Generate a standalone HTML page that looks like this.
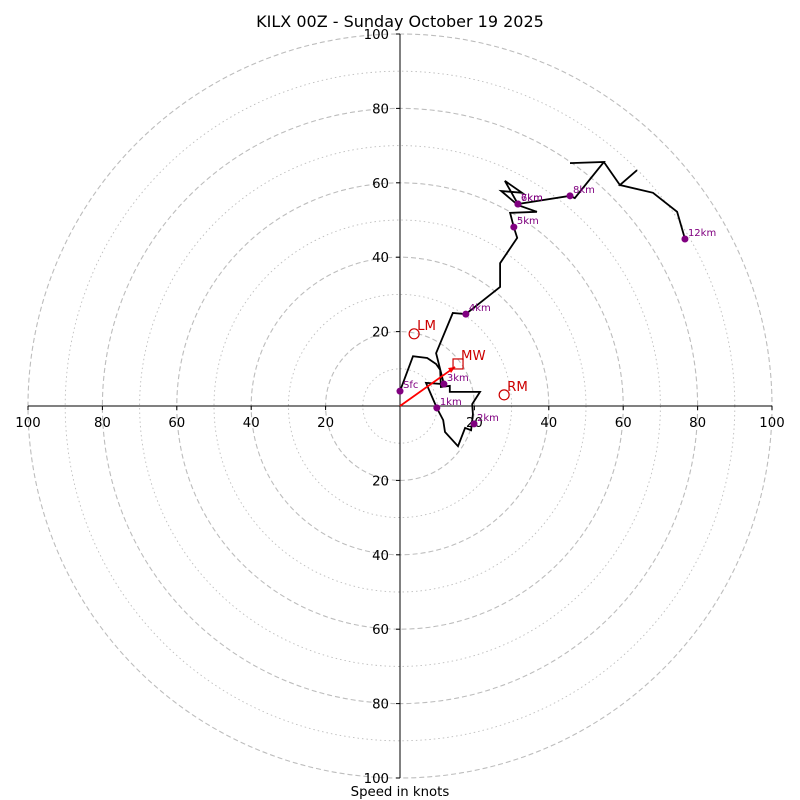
<!DOCTYPE html>
<html><head><meta charset="utf-8"><style>
html,body{margin:0;padding:0;background:#fff}
svg{display:block;font-family:"DejaVu Sans","Liberation Sans",sans-serif}
</style></head><body>
<svg id="chart" width="800" height="800">
<text x="400" y="27" text-anchor="middle" font-size="16">KILX 00Z - Sunday October 19 2025</text>
<g id="rings"></g><g id="axes"></g><g id="trace"></g><g id="marks"></g>
<text x="400" y="796" text-anchor="middle" font-size="13.3">Speed in knots</text>
</svg>
<script>
const ringValues=[10,20,30,40,50,60,70,80,90,100];
const tickLabels=[20,40,60,80,100];
const traceU=[0,3.5,7.3,9.7,10.8,11.0,13.4,13.4,21.5,19.4,19.6,19.1,17.5,15.6,12.1,11.6,9.9,7.0,11.8,9.7,14.2,17.7,26.9,26.9,31.5,30.6,29.6,36.8,31.7,27.2,32.8,28.2,31.7,45.7,47.0,54.8,45.7,54.8,59.1,63.7,59.1,68.0,74.5,76.6];
const traceV=[4.0,13.4,12.9,11.3,9.7,5.1,5.4,3.8,3.8,0.5,-2.2,-6.5,-5.9,-10.8,-7.0,-3.8,-0.5,6.2,5.9,14.2,25.0,24.7,32.0,38.4,45.2,48.1,51.9,52.2,54.0,57.8,57.3,60.5,54.3,56.5,55.9,65.6,65.3,65.6,59.4,63.4,59.4,57.3,52.2,44.9];
const dotLabels=["Sfc","1km","2km","3km","4km","5km","6km","7km","8km","12km"];
const dotU=[0,9.9,19.9,11.8,17.7,30.6,31.7,31.7,45.7,76.6];
const dotV=[4.0,-0.5,-4.8,5.9,24.7,48.1,54.3,54.3,56.5,44.9];
const stormNames=["LM","MW","RM"];
const stormU=[3.8,15.6,28.0];
const stormV=[19.4,11.3,3.0];
const CX=400,CY=406,S=3.72;
const X=u=>CX+u*S, Y=v=>CY-v*S;
const NS="http://www.w3.org/2000/svg";
function mk(parent,tag,attrs,text){const e=document.createElementNS(NS,tag);for(const k in attrs)e.setAttribute(k,attrs[k]);if(text!==undefined)e.textContent=text;document.getElementById(parent).appendChild(e);return e;}
ringValues.forEach(r=>{
 const e=mk('rings','circle',{cx:CX,cy:CY,r:r*S,fill:'none',stroke:'#bdbdbd','stroke-width':r%20===0?1.1:0.9,'stroke-dasharray':r%20===0?'5,3':'1.5,3'});
 
 
});
let a=mk('axes','line',{x1:X(-100),y1:CY,x2:X(100),y2:CY,stroke:'#000','stroke-width':1});


a=mk('axes','line',{x1:CX,y1:Y(100),x2:CX,y2:Y(-100),stroke:'#000','stroke-width':1});


tickLabels.forEach(t=>{
 [t,-t].forEach(s=>{
  const l=mk('axes','text',{x:X(s),y:CY+21,'text-anchor':'middle','font-size':13.3},String(t));
  
  
  mk('axes','line',{x1:X(s),y1:CY,x2:X(s),y2:CY+4,stroke:'#000'});
  const m=mk('axes','text',{x:CX-11,y:Y(s)+5,'text-anchor':'end','font-size':13.3},String(t));
  
  
  mk('axes','line',{x1:CX-4,y1:Y(s),x2:CX,y2:Y(s),stroke:'#000'});
 });
});
const pts=traceU.map((u,i)=>X(u).toFixed(1)+','+Y(traceV[i]).toFixed(1)).join(' ');
const pl=mk('trace','polyline',{points:pts,fill:'none',stroke:'#000','stroke-width':1.8,'stroke-linejoin':'miter'});


const ar=mk('marks','line',{x1:X(0),y1:Y(0),x2:X(stormU[1]-0.8),y2:Y(stormV[1]-0.8),stroke:'#f00','stroke-width':1.8});


const ex=X(stormU[1]-0.8),ey=Y(stormV[1]-0.8);
mk('marks','polygon',{points:`${ex},${ey} ${ex-7},${ey+1} ${ex-4},${ey+6}`,fill:'#f00'});
dotLabels.forEach((n,i)=>{
 const c=mk('marks','circle',{cx:X(dotU[i]),cy:Y(dotV[i]),r:3.5,fill:'#800080'});
 
 
 const t=mk('marks','text',{x:X(dotU[i])+3,y:Y(dotV[i])-3,'font-size':10,fill:'#800080'},n);
 
 
});
stormNames.forEach((n,i)=>{
 const x=X(stormU[i]),y=Y(stormV[i]);
 let m;
 if(n==='MW') m=mk('marks','rect',{x:x-5,y:y-5,width:10,height:10,fill:'none',stroke:'#c00','stroke-width':1.2});
 else m=mk('marks','circle',{cx:x,cy:y,r:5,fill:'none',stroke:'#c00','stroke-width':1.2});
 
 
 const t=mk('marks','text',{x:x+3,y:y-4,'font-size':13.3,fill:'#c00'},n);
 
 
});
</script>
</body></html>
